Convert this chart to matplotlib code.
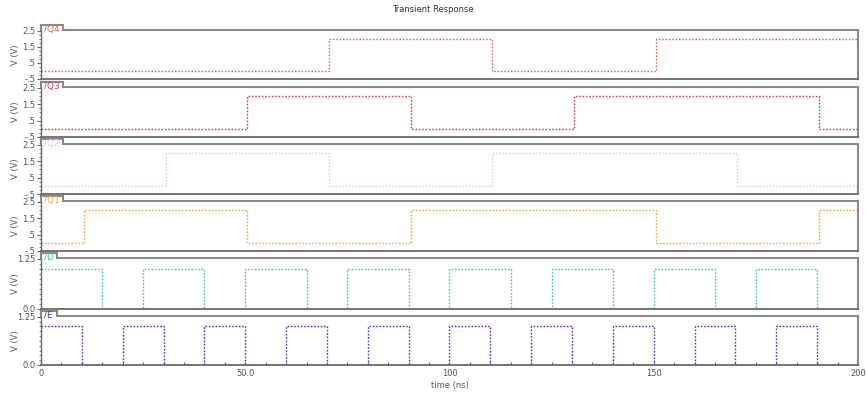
import matplotlib
matplotlib.use("Agg")
import matplotlib.pyplot as plt
from matplotlib.ticker import MultipleLocator, FixedLocator
from matplotlib.lines import Line2D

# ---- data (ns, V) ----
q4_times = [0, 70.5, 110.5, 150.5, 200]
q4_levels = [0.0, 2.0, 0.0, 2.0, 2.0]
q3_times = [0, 50.5, 90.5, 130.5, 190.5, 200]
q3_levels = [0.0, 2.0, 0.0, 2.0, 0.0, 0.0]
q2_times = [0, 30.5, 70.5, 110.5, 170.5, 200]
q2_levels = [0.0, 2.0, 0.0, 2.0, 0.0, 0.0]
q1_times = [0, 10.5, 50.5, 90.5, 150.5, 190.5, 200]
q1_levels = [0.0, 2.0, 0.0, 2.0, 0.0, 2.0, 2.0]
d_times = [0, 15, 25, 40, 50, 65, 75, 90, 100, 115, 125, 140, 150, 165, 175, 190, 200]
d_levels = [1, 0, 1, 0, 1, 0, 1, 0, 1, 0, 1, 0, 1, 0, 1, 0, 0]
e_times = [0, 10, 20, 30, 40, 50, 60, 70, 80, 90, 100, 110, 120, 130, 140, 150, 160, 170, 180, 190, 200]
e_levels = [1, 0, 1, 0, 1, 0, 1, 0, 1, 0, 1, 0, 1, 0, 1, 0, 1, 0, 1, 0, 0]

names = ["/Q4", "/Q3", "/Q2", "/Q1", "/D", "/E"]
colors = ["#e8684a", "#e43a3a", "#ffb8e6", "#f5a048", "#3ccc8c", "#3a3ae0"]
series = [(q4_times, q4_levels), (q3_times, q3_levels), (q2_times, q2_levels),
          (q1_times, q1_levels), (d_times, d_levels), (e_times, e_levels)]

x_ticks = [0, 50, 100, 150, 200]
x_ticklabels = ["0", "50.0", "100", "150", "200"]
big_yticks = [2.5, 1.5, 0.5, -0.5]
big_ylabels = ["2.5", "1.5", ".5", "-.5"]
small_yticks = [1.25, 0.0]
small_ylabels = ["1.25", "0.0"]

# ---- layout (pixels) ----
W, H = 866, 394
left_px, right_px = 41, 858
panels_px = [(30, 79), (87, 137), (144, 194), (201, 251), (258, 309), (316, 365)]
frame_col = "#8a8a8a"
text_col = "#555555"

fig = plt.figure(figsize=(W / 100, H / 100), dpi=100)
fig.text(433 / W, 1 - 10 / H, "Transient Response", ha="center", va="center",
         fontsize=6, color="#333333")


def fx(px):
    return px / W


def fy(py):
    return 1 - py / H


tab_w = [22, 22, 22, 22, 16, 16]
for i, ((top, bot), (t, v), name, col) in enumerate(zip(panels_px, series, names, colors)):
    ax = fig.add_axes([fx(left_px), fy(bot), (right_px - left_px) / W, (bot - top) / H])
    ax.plot(t, v, drawstyle="steps-post", linestyle=(0, (1.2, 1.2)), color=col, lw=1.0)
    ax.set_xlim(0, 200)
    if i < 4:
        ax.set_ylim(-0.5, 2.55)
        ax.yaxis.set_major_locator(FixedLocator(big_yticks))
        ax.set_yticklabels(big_ylabels)
        ax.yaxis.set_minor_locator(MultipleLocator(0.25))
    else:
        ax.set_ylim(0.0, 1.27)
        ax.yaxis.set_major_locator(FixedLocator(small_yticks))
        ax.set_yticklabels(small_ylabels)
        ax.yaxis.set_minor_locator(MultipleLocator(0.125))
    ax.xaxis.set_major_locator(FixedLocator(x_ticks))
    ax.xaxis.set_minor_locator(MultipleLocator(5))
    ax.tick_params(axis="y", which="major", direction="out", length=3, width=0.8,
                   colors="#666666", labelsize=6, labelcolor=text_col, pad=1)
    ax.tick_params(axis="y", which="minor", direction="out", length=1.5, width=0.6,
                   colors="#666666")
    ax.tick_params(axis="x", which="both", direction="in", length=2, width=0.8,
                   colors="#666666", labelsize=6, labelcolor=text_col, pad=3)
    if i < 5:
        ax.tick_params(axis="x", which="both", bottom=False, labelbottom=False)
    else:
        ax.set_xticklabels(x_ticklabels)
        ax.set_xlabel("time (ns)", fontsize=6, color=text_col, labelpad=2)
    ax.set_ylabel("V (V)", fontsize=6, color=text_col)
    ax.yaxis.set_label_coords((20 - left_px) / (right_px - left_px), 0.5)
    ax.spines["top"].set_visible(False)
    ax.spines["right"].set_color(frame_col)
    ax.spines["right"].set_linewidth(1.5)
    ax.spines["bottom"].set_color("#6a6a6a")
    ax.spines["bottom"].set_linewidth(1.3)
    ax.spines["left"].set_color("#666666")
    ax.spines["left"].set_linewidth(1.0)
    # label tab + top frame line
    tw = tab_w[i]
    xs = [fx(left_px), fx(left_px), fx(left_px + tw), fx(left_px + tw), fx(right_px)]
    ys = [fy(top), fy(top - 5), fy(top - 5), fy(top), fy(top)]
    fig.add_artist(Line2D(xs, ys, color=frame_col, lw=1.5, transform=fig.transFigure,
                          solid_joinstyle="miter"))
    fig.text(fx(left_px + 3), fy(top - 0.5), name, fontsize=6.5, color=col,
             ha="left", va="center", zorder=5)

fig.savefig("out.png", dpi=100)
